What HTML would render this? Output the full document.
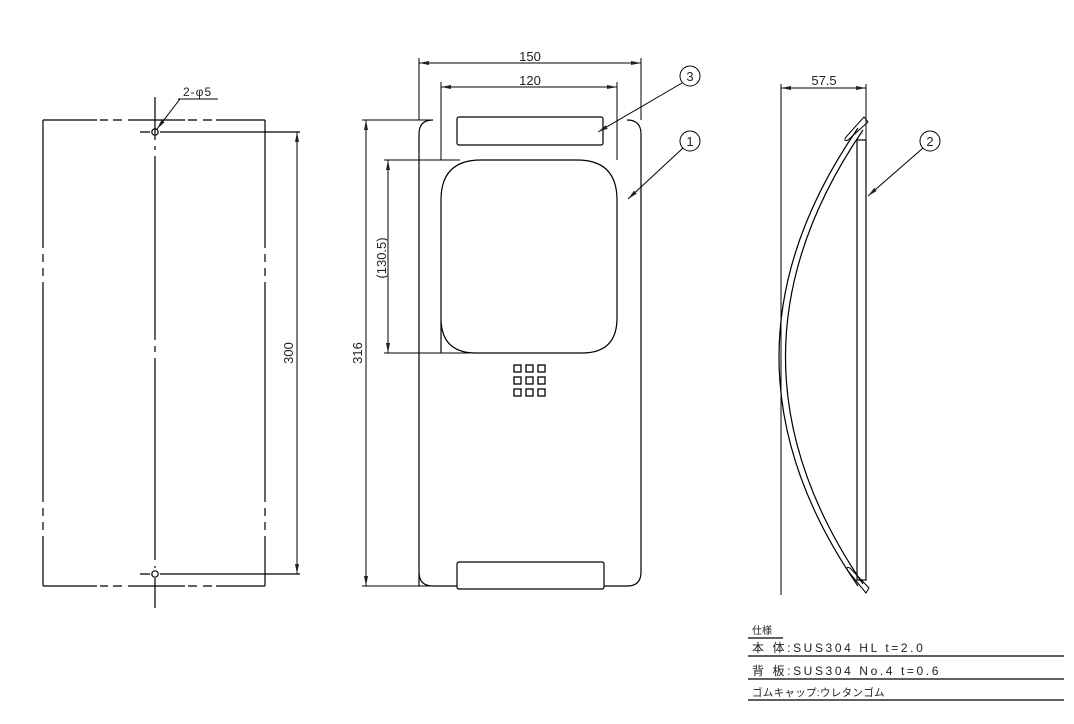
<!DOCTYPE html>
<html><head><meta charset="utf-8"><style>
html,body{margin:0;padding:0;background:#fff;}
svg{display:block;}
text{font-family:"Liberation Sans","Noto Sans CJK JP",sans-serif;fill:#222;}
</style></head><body>
<svg width="1074" height="724" viewBox="0 0 1074 724" xmlns="http://www.w3.org/2000/svg">
<defs>
<marker id="a" markerWidth="10" markerHeight="6" refX="10" refY="3" orient="auto-start-reverse" markerUnits="userSpaceOnUse"><path d="M0,1 L10,3 L0,5 z" fill="#222"/></marker>
</defs>
<g stroke="#000" stroke-width="1.2" fill="none">
<path d="M43,120 H97 M100,120 H108 M113,120 H122 M128,120 H185 M188,120 H197 M203,120 H212 M216,120 H265"/>
<path d="M43,586 H97 M100,586 H108 M113,586 H122 M128,586 H185 M188,586 H197 M203,586 H212 M216,586 H265"/>
<path d="M43,120 V248 M43,254 V262 M43,268 V276 M43,282 V502 M43,508 V516 M43,522 V530 M43,536 V586"/>
<path d="M265,120 V248 M265,254 V262 M265,268 V276 M265,282 V502 M265,508 V516 M265,522 V530 M265,536 V586"/>
<path d="M155,97 V140 M155,146 V150 M155,156 V340 M155,346 V352 M155,358 V560 M155,566 V568 M155,578 V608" />
<circle cx="155" cy="132" r="3.2"/>
<circle cx="155" cy="574" r="3.2"/>
<path d="M140,132 H150 M160,132 H300 M140,574 H150 M160,574 H300"/>
<line x1="297" y1="132" x2="297" y2="574" stroke-width="1" marker-start="url(#a)" marker-end="url(#a)"/>
<path d="M178,99 H218" stroke-width="1"/>
<line x1="180" y1="99" x2="157" y2="129" stroke-width="1" marker-end="url(#a)"/>

<path d="M419,586 V134 Q419,120 433,120 M627,120 Q641,120 641,134 V572 Q641,586 627,586 H604 M457,586 H433 Q419,586 419,572"/>
<rect x="457" y="117" width="146" height="28" rx="2"/>
<rect x="457" y="562" width="147" height="27" rx="2"/>
<path d="M441,353 V200 Q441,160 481,160 H577 Q617,160 617,200 V318 Q617,353 582,353 H476 Q441,353 441,318"/>
<path d="M362,120 H430 M362,586 H457 M384,160 H460 M384,353 H470" stroke-width="1"/>
<line x1="366" y1="120" x2="366" y2="586" stroke-width="1" marker-start="url(#a)" marker-end="url(#a)"/>
<line x1="388" y1="160" x2="388" y2="353" stroke-width="1" marker-start="url(#a)" marker-end="url(#a)"/>
<path d="M419,58 V120 M641,58 V120 M441,82 V160 M617,82 V160" stroke-width="1"/>
<line x1="419" y1="63" x2="641" y2="63" stroke-width="1" marker-start="url(#a)" marker-end="url(#a)"/>
<line x1="441" y1="87" x2="617" y2="87" stroke-width="1" marker-start="url(#a)" marker-end="url(#a)"/>
<g stroke-width="1.3">
<rect x="514" y="365" width="7" height="7"/><rect x="526" y="365" width="7" height="7"/><rect x="538" y="365" width="7" height="7"/>
<rect x="514" y="377" width="7" height="7"/><rect x="526" y="377" width="7" height="7"/><rect x="538" y="377" width="7" height="7"/>
<rect x="514" y="389" width="7" height="7"/><rect x="526" y="389" width="7" height="7"/><rect x="538" y="389" width="7" height="7"/>
</g>
<circle cx="690" cy="76" r="10" stroke-width="1"/>
<circle cx="690" cy="141" r="10" stroke-width="1"/>
<line x1="682" y1="83" x2="598" y2="132" stroke-width="1" marker-end="url(#a)"/>
<line x1="683" y1="148" x2="628" y2="199" stroke-width="1" marker-end="url(#a)"/>

<path d="M781,84 V595 M866,84 V140" stroke-width="1"/>
<line x1="781" y1="88" x2="866" y2="88" stroke-width="1" marker-start="url(#a)" marker-end="url(#a)"/>
<rect x="857" y="140" width="9" height="440"/>
<path d="M858,128 Q700,357 858,586"/>
<path d="M863,130 Q708,357 863,584"/>
<path d="M864,117 L846,137 Q843,142 848,140 L868,122 Z" stroke-width="1"/>
<path d="M866,593 L848,571 Q845,566 850,568 L869,588 Z" stroke-width="1"/>
<circle cx="930" cy="141" r="10" stroke-width="1"/>
<line x1="923" y1="148" x2="868" y2="196" stroke-width="1" marker-end="url(#a)"/>

<path d="M748,638 H783 M748,656 H1064 M748,679 H1064 M748,700 H1064" stroke-width="1.2"/>
</g>
<text x="530" y="61" font-size="13" text-anchor="middle">150</text>
<text x="530" y="85" font-size="13" text-anchor="middle">120</text>
<text x="824" y="85" font-size="13" text-anchor="middle">57.5</text>
<text x="183" y="96" font-size="12" letter-spacing="1">2-φ5</text>
<text transform="translate(293,353) rotate(-90)" font-size="13" text-anchor="middle">300</text>
<text transform="translate(362,353) rotate(-90)" font-size="13" text-anchor="middle">316</text>
<text transform="translate(386,258) rotate(-90)" font-size="13" text-anchor="middle">(130.5)</text>
<text x="690" y="81" font-size="13" text-anchor="middle">3</text>
<text x="690" y="146" font-size="13" text-anchor="middle">1</text>
<text x="930" y="146" font-size="13" text-anchor="middle">2</text>
<text x="752" y="634" font-size="10">仕様</text>
<text x="752" y="652" font-size="12" letter-spacing="2.6">本 体:SUS304 HL t=2.0</text>
<text x="752" y="675" font-size="12" letter-spacing="2.6">背 板:SUS304 No.4 t=0.6</text>
<text x="752" y="696" font-size="10.5" letter-spacing="0.3">ゴムキャップ:ウレタンゴム</text>
</svg>
</body></html>
